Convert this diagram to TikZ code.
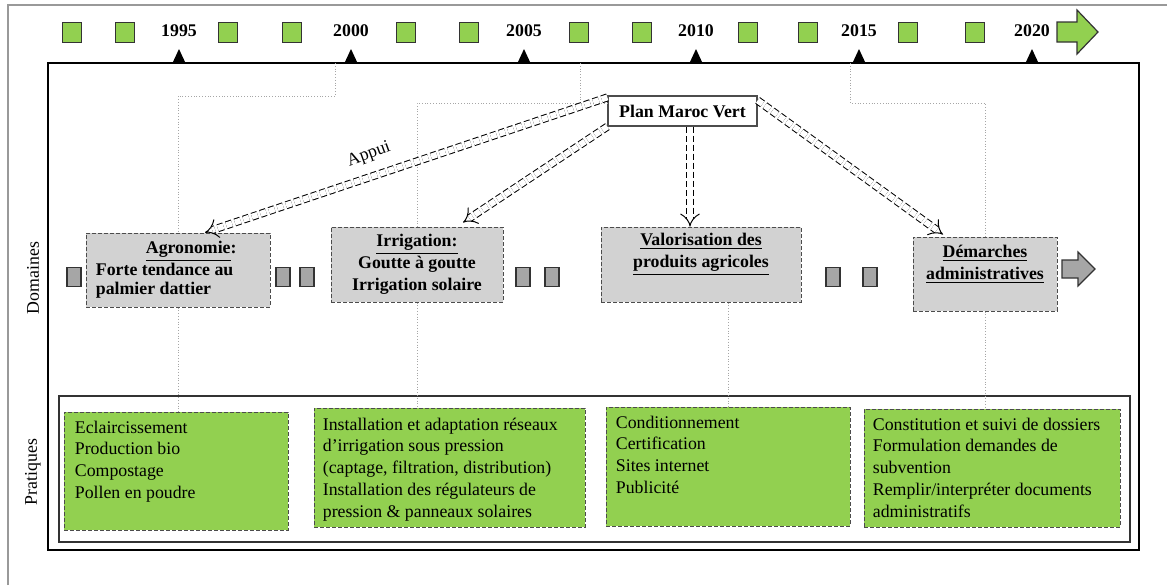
\documentclass[tikz,border=0pt]{standalone}
\usepackage{fontspec}
\setmainfont{Liberation Serif}
\usepackage{xcolor}
\usepackage{tikz}
\usetikzlibrary{calc,positioning,arrows.meta}
\definecolor{vert}{HTML}{92D050}
\definecolor{grisclair}{HTML}{D2D2D2}
\definecolor{grisfonce}{HTML}{A6A6A6}
\newcommand{\taille}{\fontsize{8.9}{10.85}\selectfont}
\tikzset{
	carre/.style={draw=black!80, fill=vert, line width=0.6pt, minimum width=9.5pt, minimum height=10pt, inner sep=0pt},
	annee/.style={font=\taille\bfseries},
	bloc/.style={draw=black!80, fill=grisfonce, line width=0.6pt, minimum width=7pt, minimum height=9.5pt, inner sep=0pt},
	domaine/.style={draw=black!70, dash pattern=on 2pt off 1pt, fill=grisclair, line width=0.5pt, inner sep=0pt},
	domtexte/.style={font=\fontsize{8.9}{11}\selectfont\bfseries, align=center, inner sep=0pt},
	pratique/.style={draw=black!70, dash pattern=on 2pt off 1pt, fill=vert, line width=0.5pt, inner sep=0pt},
	pratexte/.style={font=\taille, align=left, inner sep=0pt},
	repere/.style={draw=black!35, densely dotted, line width=0.4pt},
	appuie/.style={draw, double, double distance=3pt, line width=0.5pt, dash pattern=on 3pt off 1.5pt, -{Implies}}
}

\begin{document}
\begin{tikzpicture}[x=0.5pt,y=-0.5pt,font=\taille]
\useasboundingbox (0,0) rectangle (1167,585);

\draw[black!40, line width=1pt] (8,585) -- (8,5) -- (1167,5);

% frise
\foreach \x in {72,125,228,292,406,469,579,642,748,808,908,975}
\node[carre] (c\x) at (\x,32.5) {};

\foreach \an/\x in {1995/179,2000/351,2005/524,2010/696,2015/859,2020/1032}{
\node[annee] (a\an) at (\x,31) {\an};
\fill (\x-6.5,63) -- (\x,49) -- (\x+6.5,63) -- cycle;
}
\draw[draw=black!80, fill=vert, line width=0.6pt] (1057,22) -- (1077,22) -- (1077,10) -- (1098,32) -- (1077,54) -- (1077,42) -- (1057,42) -- cycle;

\draw[line width=1pt] (48,63) rectangle (1139,550);
\draw[black!80, line width=0.7pt] (59,396) rectangle (1130,542);

\node[rotate=90] (dom) at (33,278) {Domaines};
\node[rotate=90] (prat) at (33,472) {Pratiques};

\node[draw=black!70, fill=white, line width=0.6pt, minimum width=74.5pt, minimum height=15pt, inner sep=0pt, font=\taille\bfseries] (pmv) at (682.5,111) {Plan Maroc Vert};

% domaines
\node[domaine, minimum width=92pt, minimum height=37pt] (agro) at (178,270) {};
\node[domaine, minimum width=86pt, minimum height=37.5pt] (irrig) at (417,264.5) {};
\node[domaine, minimum width=100pt, minimum height=37.5pt] (valo) at (701,264.5) {};
\node[domaine, minimum width=72pt, minimum height=37pt] (demarch) at (985,274) {};

\node[domtexte, font=\fontsize{8.9}{9.5}\selectfont\bfseries, align=left, right=5pt of agro.west] (agrotxt) {\hspace*{25pt}\underline{Agronomie}:\\Forte tendance au\\palmier dattier};
\node[domtexte] (irrigtxt) at (irrig) {\underline{Irrigation:}\\Goutte à goutte\\Irrigation solaire};
\node[domtexte] (valotxt) at ([yshift=5.25pt]valo.center) {\underline{Valorisation des}\\\underline{produits agricoles}};
\node[domtexte] (demtxt) at ([yshift=5pt]demarch.center) {\underline{Démarches}\\\underline{administratives}};

\foreach \x in {74,283,307,523,552,833,870}
\node[bloc] (b\x) at (\x,277) {};
\draw[draw=black!80, fill=grisfonce, line width=0.6pt] (1062,260) -- (1078,260) -- (1078,252) -- (1095,269) -- (1078,286) -- (1078,278) -- (1062,278) -- cycle;

% pratiques
\node[pratique, minimum width=112pt, minimum height=59pt] (p1) at (176,471) {};
\node[pratique, minimum width=135.5pt, minimum height=59.5pt] (p2) at (449.5,467.5) {};
\node[pratique, minimum width=122pt, minimum height=59.5pt] (p3) at (728,466.5) {};
\node[pratique, minimum width=128pt, minimum height=59pt] (p4) at (992,468) {};

\node[pratexte, below right=4.5pt and 5.5pt of p1.north west] (p1txt) {Eclaircissement\\Production bio\\Compostage\\Pollen en poudre};
\node[pratexte, below right=5pt and 4.5pt of p2.north west] (p2txt) {Installation et adaptation réseaux\\d’irrigation sous pression\\(captage, filtration, distribution)\\Installation des régulateurs de\\pression \& panneaux solaires};
\node[pratexte, below right=4.5pt and 5pt of p3.north west] (p3txt) {Conditionnement\\Certification\\Sites internet\\Publicité};
\node[pratexte, below right=4.5pt and 4.5pt of p4.north west] (p4txt) {Constitution et suivi de dossiers\\Formulation demandes de\\subvention\\Remplir/interpréter documents\\administratifs};

% reperes
\coordinate (g1) at (335,63);
\coordinate (g2) at (580,63);
\coordinate (g3) at (850,63);
\coordinate (k2) at (580,103);
\draw[repere] (g1) -- ++(0,33) -| (agro.north);
\draw[repere] (g2) -- (k2);
\draw[repere] (k2 -| pmv.west) -| (irrig.north);
\draw[repere] (g3) -- ++(0,40) -| (demarch.north);
\draw[repere] (agro.south) -- (agro.south |- p1.north);
\draw[repere] (irrig.south) -- (irrig.south |- p2.north);
\draw[repere] (p3.north |- valo.south) -- (p3.north);
\draw[repere] (demarch.south) -- (demarch.south |- p4.north);

% appui
\draw[appuie] ([yshift=-1pt]pmv.north west) -- ([xshift=13.5pt]agro.north);
\draw[appuie] (pmv.south west) -- ([xshift=23pt,yshift=2pt]irrig.north);
\coordinate (pv) at ([xshift=3.75pt]pmv.south);
\draw[appuie] (pv) -- (pv |- valo.north);
\draw[appuie] ([yshift=-2.5pt]pmv.north east) -- ([xshift=-21pt,yshift=1pt]demarch.north);
\node[rotate=20] (appui) at (369,155) {Appui};

\end{tikzpicture}
\end{document}
